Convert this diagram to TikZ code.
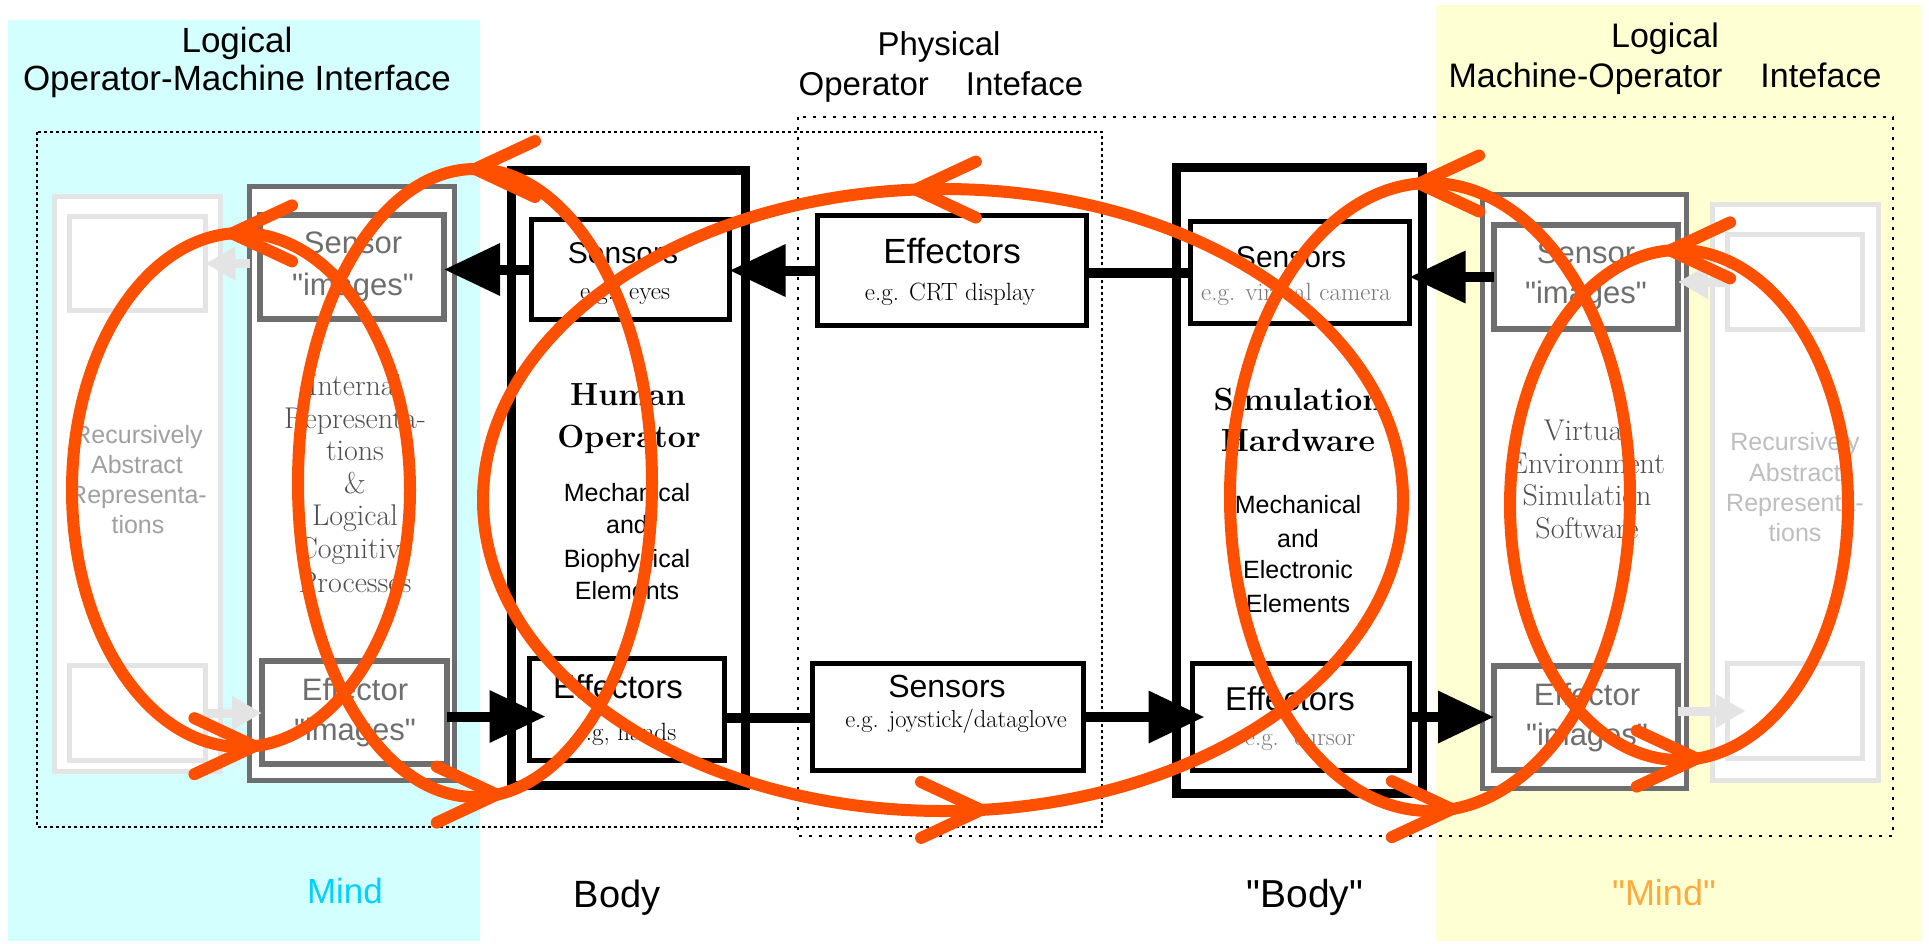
\documentclass[tikz,border=0pt]{standalone}
\usepackage{fontspec}
\usetikzlibrary{arrows.meta,calc,shapes.geometric}
\newfontfamily\lsans{Liberation Sans}
\definecolor{cyanbg}{RGB}{212,255,255}
\definecolor{yelbg}{RGB}{255,255,212}
\definecolor{darkg}{RGB}{110,110,110}
\definecolor{lightg}{RGB}{228,228,228}
\definecolor{recg}{RGB}{160,160,160}
\definecolor{recgb}{RGB}{190,190,190}
\definecolor{sergray}{RGB}{80,80,80}
\definecolor{egray}{RGB}{120,120,120}
\definecolor{loopc}{RGB}{255,80,0}
\definecolor{mindc}{RGB}{0,210,255}
\definecolor{mindo}{RGB}{255,170,64}
\newcommand\fsz[1]{\fontsize{#1}{#1}\selectfont}
\newcommand\mybox[6]{\node[#2, minimum width={#5-#3}, minimum height={#6-#4}] (#1) at ({(#3+#5)/2},{(#4+#6)/2}) {};}
\newcommand\mytxt[5]{\node[txt,#2] (#1) at (#3,#4) {#5};}
\begin{document}
\begin{tikzpicture}[x=1pt,y=-1pt,
  lbox/.style={draw=lightg, line width=5pt, fill=white, inner sep=0pt, outer sep=0pt},
  gbox/.style={draw=darkg, line width=5.5pt, fill=white, inner sep=0pt, outer sep=0pt},
  kbox/.style={draw=black, line width=5pt, fill=white, inner sep=0pt, outer sep=0pt},
  kbig/.style={draw=black, line width=9pt, fill=white, inner sep=0pt, outer sep=0pt},
  txt/.style={anchor=base, inner sep=0pt, outer sep=0pt},
  sansf/.style={font={\lsans\fsz{#1}}},
  serf/.style={font={\rmfamily\fsz{#1}}},
  serb/.style={font={\rmfamily\bfseries\fsz{#1}}},
  barrow/.style={draw=black, line width=10pt, -{Triangle[length=56pt,width=50pt]}},
  bline/.style={draw=black, line width=10pt},
  garrow/.style={draw=lightg, line width=9pt, -{Triangle[length=30pt,width=32pt]}},
  dotone/.style={draw=black, line width=1.8pt, dash pattern=on 3pt off 3pt},
  dottwo/.style={draw=black, line width=2.8pt, dash pattern=on 3pt off 7pt},
  loopst/.style={draw=loopc, line width=12pt, ellipse, inner sep=0pt, outer sep=0pt},
  chev/.style={draw=loopc, line width=12pt, line cap=round, line join=round}
]
\useasboundingbox (0,0) rectangle (1929,943);
\fill[white] (0,0) rectangle (1929,943);
\fill[cyanbg] (8,20) rectangle (480,941);
\fill[yelbg] (1436,5) rectangle (1921,941);
\draw[dotone] (37,132) rectangle (1102,827);
\draw[dottwo] (798,117) rectangle (1893,836);

% boxes
\mybox{lo1}{lbox}{54.5}{196.5}{220.5}{771.5}
\mybox{li1}{lbox}{69.5}{216.5}{205.5}{310.5}
\mybox{li2}{lbox}{69.5}{665.5}{205.5}{760.5}
\mybox{go1}{gbox}{249.5}{186.5}{454.5}{780.5}
\mybox{gs1}{gbox}{260}{215}{444}{319}
\mybox{ge1}{gbox}{262}{661}{447}{764}
\mybox{ho}{kbig}{511.5}{170.5}{745.5}{785.5}
\mybox{hs}{kbox}{531.5}{219.5}{729.5}{319.5}
\mybox{he}{kbox}{529.5}{658.5}{724.5}{760.5}
\mybox{pe}{kbox}{817.5}{215.5}{1086.5}{325.5}
\mybox{ps}{kbox}{812.5}{663.5}{1083.5}{770.5}
\mybox{so}{kbig}{1176.5}{167.5}{1422.5}{793.5}
\mybox{ss}{kbox}{1190.5}{221.5}{1409.5}{323.5}
\mybox{se}{kbox}{1192.5}{663.5}{1409.5}{770.5}
\mybox{go2}{gbox}{1482.5}{194.5}{1686.5}{788.5}
\mybox{gs2}{gbox}{1494}{225}{1678}{329}
\mybox{ge2}{gbox}{1494}{666}{1678}{770}
\mybox{lo2}{lbox}{1712.5}{204.5}{1878.5}{780.5}
\mybox{lr1}{lbox}{1727.5}{234.5}{1862.5}{329.5}
\mybox{lr2}{lbox}{1727.5}{663.5}{1862.5}{758.5}

% black connectors
\draw[barrow] (pe.west) -- (pe.west -| hs.east);
\draw[barrow] (hs.west) -- (hs.west -| gs1.east);
\draw[bline] (ss.west) -- (ss.west -| pe.east);
\draw[barrow] (gs2.west) -- (gs2.west -| ss.east);
\draw[barrow] ($(ge1.east)+(0,4)$) -- ($(ge1.east -| he.west)+(16,4)$);
\draw[bline] ($(he.east)+(0,8)$) -- ($(he.east -| ps.west)+(0,8)$);
\draw[barrow] (ps.east) -- ($(ps.east -| se.west)+(12,0)$);
\draw[barrow] (se.east) -- (se.east -| ge2.west);

% light connectors
\draw[garrow] (go1.west |- li1.east) -- (li1.east);
\draw[garrow] (li2.east) -- (li2.east -| ge1.west);
\draw[garrow] (lr1.west) -- (lr1.west -| gs2.east);
\draw[garrow] (ge2.east |- lr2.west) -- ($(lr2.west)+(18,0)$);

% titles
\mytxt{tl1}{sansf=35}{237}{52}{Logical}
\mytxt{tl2}{sansf=35}{237}{90}{Operator-Machine Interface}
\mytxt{tp1}{sansf=33}{939}{55}{Physical}
\mytxt{tp2}{sansf=33}{941}{95}{Operator\hspace{37pt}Inteface}
\mytxt{tr1}{sansf=34}{1665}{47}{Logical}
\mytxt{tr2}{sansf=34}{1665}{87}{Machine-Operator\hspace{38pt}Inteface}

% bottom labels
\mytxt{mind}{sansf=35, text=mindc}{345}{903}{Mind}
\mytxt{body}{sansf=38}{617}{907}{Body}
\mytxt{qbody}{sansf=39}{1305}{907}{"Body"}
\mytxt{qmind}{sansf=36, text=mindo}{1664}{905}{"Mind"}

% left recursive
\mytxt{rl1}{sansf=25, text=recg}{138}{443}{Recursively}
\mytxt{rl2}{sansf=25, text=recg}{137}{473}{Abstract}
\mytxt{rl3}{sansf=25, text=recg}{138}{503}{Representa-}
\mytxt{rl4}{sansf=25, text=recg}{138}{533}{tions}
% right recursive
\mytxt{rr1}{sansf=25, text=recgb}{1795}{450}{Recursively}
\mytxt{rr2}{sansf=25, text=recgb}{1795}{481}{Abstract}
\mytxt{rr3}{sansf=25, text=recgb}{1795}{511}{Representa-}
\mytxt{rr4}{sansf=25, text=recgb}{1795}{541}{tions}

% left gray box
\mytxt{gs1a}{sansf=31, text=darkg}{353}{253}{Sensor}
\mytxt{gs1b}{sansf=31, text=darkg}{353}{295}{"images"}
\mytxt{ge1a}{sansf=31, text=darkg}{355}{700}{Effector}
\mytxt{ge1b}{sansf=31, text=darkg}{355}{740}{"images"}
\mytxt{ir1}{serf=30, text=sergray}{355}{395}{Internal}
\mytxt{ir2}{serf=30, text=sergray}{355}{428}{Representa-}
\mytxt{ir3}{serf=30, text=sergray}{355}{460}{tions}
\mytxt{ir4}{serf=30, text=sergray}{355}{493}{\&}
\mytxt{ir5}{serf=30, text=sergray}{355}{525}{Logical}
\mytxt{ir6}{serf=30, text=sergray}{355}{558}{Cognitive}
\mytxt{ir7}{serf=30, text=sergray}{355}{592}{Processes}

% right gray box
\mytxt{gs2a}{sansf=31, text=darkg}{1586}{263}{Sensor}
\mytxt{gs2b}{sansf=31, text=darkg}{1586}{303}{"images"}
\mytxt{ge2a}{sansf=31, text=darkg}{1587}{705}{Effector}
\mytxt{ge2b}{sansf=31, text=darkg}{1587}{745}{"images"}
\mytxt{vr1}{serf=30, text=sergray}{1587}{440}{Virtual}
\mytxt{vr2}{serf=30, text=sergray}{1587}{473}{Environment}
\mytxt{vr3}{serf=30, text=sergray}{1587}{505}{Simulation}
\mytxt{vr4}{serf=30, text=sergray}{1587}{538}{Software}

% human operator
\mytxt{hs1}{sansf=30}{623}{263}{Sensors}
\mytxt{hs2}{serf=25}{625}{299}{e.g.\ \ eyes}
\mytxt{he1}{sansf=33}{618}{698}{Effectors}
\mytxt{he2}{serf=25}{626}{740}{e.g, hands}
\mytxt{ho1}{serb=32}{628}{405}{Human}
\mytxt{ho2}{serb=32}{629}{447}{Operator}
\mytxt{hm1}{sansf=25}{627}{501}{Mechanical}
\mytxt{hm2}{sansf=25}{627}{533}{and}
\mytxt{hm3}{sansf=25}{627}{567}{Biophysical}
\mytxt{hm4}{sansf=25}{627}{599}{Elements}

% physical interface
\mytxt{pe1}{sansf=35}{952}{263}{Effectors}
\mytxt{pe2}{serf=25}{950}{300}{e.g. CRT display}
\mytxt{ps1}{sansf=32}{947}{697}{Sensors}
\mytxt{ps2}{serf=24.5}{956}{727}{e.g. joystick/dataglove}

% simulation hardware
\mytxt{ss1}{sansf=30}{1291}{267}{Sensors}
\mytxt{ss2}{serf=25, text=egray}{1296}{300}{e.g. virtual camera}
\mytxt{se1}{sansf=33}{1290}{710}{Effectors}
\mytxt{se2}{serf=25, text=egray}{1300}{745}{e.g.\ \ cursor}
\mytxt{so1}{serb=32}{1298}{410}{Simulation}
\mytxt{so2}{serb=32}{1298}{451}{Hardware}
\mytxt{sm1}{sansf=25}{1298}{513}{Mechanical}
\mytxt{sm2}{sansf=25}{1298}{547}{and}
\mytxt{sm3}{sansf=25}{1298}{578}{Electronic}
\mytxt{sm4}{sansf=25}{1298}{612}{Elements}

% orange loops
\node[loopst, minimum width=338, minimum height=514] (L1) at (241,490) {};
\node[loopst, minimum width=354, minimum height=628] (L2) at (475,483) {};
\node[loopst, minimum width=920, minimum height=622] (L3) at (943,500) {};
\node[loopst, minimum width=400, minimum height=628] (L4) at (1430,497) {};
\node[loopst, minimum width=338, minimum height=510] (L5) at (1679,505) {};

\draw[chev] ($(L1.92)+(60,-28)$) -- (L1.92) -- ($(L1.92)+(60,28)$);
\draw[chev] ($(L1.273)+(-60,-28)$) -- (L1.273) -- ($(L1.273)+(-60,28)$);
\draw[chev] ($(L2.90)+(60,-28)$) -- (L2.90) -- ($(L2.90)+(60,28)$);
\draw[chev] ($(L2.274)+(-60,-28)$) -- (L2.274) -- ($(L2.274)+(-60,28)$);
\draw[chev] ($(L3.95.7)+(60,-28)$) -- (L3.95.7) -- ($(L3.95.7)+(60,28)$);
\draw[chev] ($(L3.277)+(-60,-28)$) -- (L3.277) -- ($(L3.277)+(-60,28)$);
\draw[chev] ($(L4.92)+(60,-28)$) -- (L4.92) -- ($(L4.92)+(60,28)$);
\draw[chev] ($(L4.274)+(-60,-28)$) -- (L4.274) -- ($(L4.274)+(-60,28)$);
\draw[chev] ($(L5.92)+(60,-28)$) -- (L5.92) -- ($(L5.92)+(60,28)$);
\draw[chev] ($(L5.274)+(-60,-28)$) -- (L5.274) -- ($(L5.274)+(-60,28)$);
\end{tikzpicture}
\end{document}
